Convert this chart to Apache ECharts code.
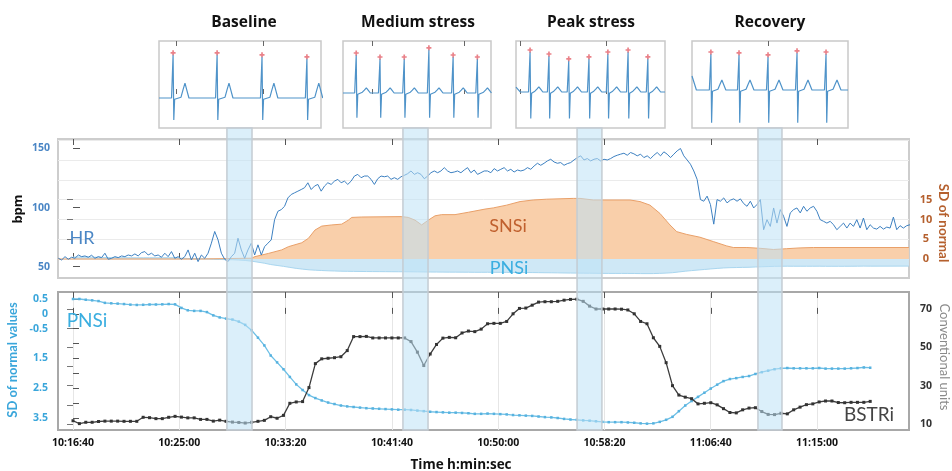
<!DOCTYPE html>
<html><head><meta charset="utf-8">
<script src="https://cdn.jsdelivr.net/npm/echarts@6/dist/echarts.min.js"></script>
<style>html,body{margin:0;padding:0;background:#fff}#c{width:952px;height:471px}</style>
</head><body><div id="c"></div>
<script>
// ---------------- DATA ----------------
// time in seconds after 10:16:40
const xTickSec = [0, 500, 1000, 1500, 2000, 2500, 3000, 3500];
const xTickLabels = ['10:16:40','10:25:00','10:33:20','10:41:40','10:50:00','10:58:20','11:06:40','11:15:00'];

// phase windows (shaded bands), seconds
const bandNames = ['Baseline','Medium stress','Peak stress','Recovery'];
const bandStartSec = [724, 1552, 2371, 3222];
const bandEndSec = [842, 1670, 2488, 3335];

// heart rate (bpm), sampled every hrStepSec from hrStartSec
const hrStartSec = -69;
const hrStepSec = 15.65;
const hrValues = [
57.1,55.7,58.5,56.3,58.0,57.1,59.9,58.5,59.1,58.0,
59.7,57.1,58.5,57.7,61.4,56.3,57.1,58.5,57.7,59.1,
58.5,59.9,59.1,60.8,59.1,61.9,62.8,59.9,61.4,59.1,
59.9,58.0,61.4,58.5,62.8,57.1,58.5,56.3,58.5,64.2,
55.7,61.4,54.3,59.9,57.1,61.4,69.9,79.8,72.7,61.4,
56.3,54.3,58.5,61.4,74.1,64.2,57.1,64.2,69.9,59.9,
68.5,59.9,67.0,69.9,72.7,89.8,96.9,98.3,101.1,108.2,
111.1,112.5,113.9,115.3,116.8,121.0,115.3,118.2,119.6,113.9,
118.2,121.0,119.6,122.4,123.9,121.0,122.4,119.6,122.4,126.7,
128.1,125.3,126.7,126.7,123.9,119.6,124.4,126.7,126.1,126.7,
123.9,125.3,123.9,126.1,127.3,128.7,131.0,128.1,129.5,128.1,
124.4,126.7,129.5,131.0,129.5,131.0,133.8,131.0,129.5,130.1,
131.0,129.5,131.8,133.8,129.5,131.8,128.1,129.5,131.0,
131.0,129.5,133.0,131.0,132.4,133.8,131.0,132.4,130.1,131.8,
131.0,131.8,133.8,132.4,135.2,137.5,135.8,137.5,139.5,140.9,
138.6,137.5,138.1,135.8,137.2,138.1,140.3,142.3,143.8,140.3,
141.5,139.5,140.9,141.5,139.5,140.9,140.3,141.5,143.2,144.3,
145.2,146.0,144.3,146.6,145.5,143.8,145.2,142.3,143.8,141.5,
144.3,146.6,143.8,147.2,145.2,142.3,145.2,148.0,150.0,143.8,
140.3,136.7,131.0,123.9,106.8,105.4,109.7,102.6,86.0,106.8,
105.4,108.2,104.0,106.3,107.4,105.4,107.4,103.4,101.1,105.4,
99.7,102.6,106.8,81.3,89.8,84.1,99.7,86.9,98.3,92.6,
84.1,95.5,98.3,99.7,95.5,101.1,96.9,99.7,101.1,96.9,
89.8,88.4,86.9,88.4,85.5,81.3,84.1,86.9,82.7,86.9,
84.1,89.8,82.7,91.2,81.3,85.5,82.7,81.8,84.1,81.8,
83.5,82.7,92.0,81.3,84.7,82.7,84.7,85.5
];

// SNSi (SD of normal values), breakpoints
const snsiTimes = [-70,605,840,856,919,982,1013,1076,1107,1138,1170,1217,1264,1295,1311,1358,1546,1577,1609,1640,1671,1703,1734,1797,1860,1938,1977,2040,2103,2165,2228,2291,2353,2385,2448,2620,2667,2714,2761,2808,2840,2887,2949,3012,3075,3106,3170,3232,3295,3357,3420,3483,3932];
const snsiValues = [0,0,0.2,0.6,1.4,2.3,3.1,4.1,5.2,7.3,8.3,8.6,8.8,9.8,10.5,10.6,10.7,10.5,9.8,8.6,9.8,10.9,11.2,11.2,11.8,12.6,12.9,13.6,14.5,14.9,15.1,15.2,15.3,15.3,14.9,14.9,14.5,13.6,11.5,8.6,6.9,6.2,5.5,4.4,3.3,2.9,2.9,2.7,2.4,2.6,2.8,2.9,2.9];

// PNSi and BSTRi, one value every sampleStepSec from 0 s
const sampleStepSec = 30;
const pnsiValues = [
0.50,0.50,0.475,0.455,0.43,0.37,0.355,0.345,0.33,0.31,
0.30,0.305,0.315,0.315,0.32,0.33,0.32,0.20,0.12,0.10,
0.10,0.06,-0.05,-0.12,-0.16,-0.19,-0.26,-0.37,-0.55,-0.80,
-1.06,-1.40,-1.63,-1.86,-2.12,-2.37,-2.56,-2.73,-2.83,-2.91,
-2.98,-3.03,-3.08,-3.11,-3.13,-3.15,-3.17,-3.18,-3.19,-3.20,
-3.21,-3.22,-3.22,-3.23,-3.25,-3.27,-3.29,-3.30,-3.31,-3.32,
-3.32,-3.33,-3.34,-3.36,-3.36,-3.35,-3.36,-3.37,-3.38,-3.40,
-3.41,-3.42,-3.43,-3.45,-3.47,-3.48,-3.50,-3.53,-3.55,-3.56,
-3.58,-3.59,-3.61,-3.63,-3.64,-3.64,-3.64,-3.65,-3.66,-3.68,
-3.69,-3.68,-3.63,-3.56,-3.46,-3.27,-3.08,-2.93,-2.79,-2.65,
-2.51,-2.38,-2.26,-2.19,-2.16,-2.12,-2.09,-2.02,-1.96,-1.91,
-1.86,-1.83,-1.82,-1.83,-1.83,-1.83,-1.83,-1.82,-1.84,-1.84,
-1.84,-1.84,-1.83,-1.82,-1.80,-1.81
];
const pnsiBandTailSec = [3932];
const pnsiBandTailValues = [-1.8];
const bstriValues = [
11.7,10.2,10.9,10.9,11.3,11.5,11.5,11.5,11.4,11.4,
11.4,13.5,13.3,12.8,12.8,13.5,14.0,13.6,13.2,13.2,
12.4,12.4,11.5,12.0,11.4,11.0,10.8,10.5,10.9,11.4,
11.9,13.8,13.0,14.5,20.8,21.5,21.7,29.0,41.5,44.0,
44.3,44.6,45.1,48.3,55.6,55.6,55.7,54.9,54.9,54.9,
54.9,54.9,54.9,53.0,47.5,40.5,46.5,51.5,54.8,55.2,
55.0,57.5,58.5,58.2,59.5,62.3,62.5,62.5,63.5,67.5,
70.3,70.5,72.0,73.6,73.8,73.8,74.0,74.6,75.0,75.1,
74.0,71.5,70.0,70.0,70.0,70.0,69.9,69.5,67.5,63.5,
62.3,55.0,50.5,42.0,30.0,25.1,24.0,23.2,20.5,20.8,
21.1,20.0,18.0,16.0,15.8,17.4,18.3,18.5,16.5,15.0,
14.9,15.6,15.3,17.4,18.8,20.1,20.5,21.5,22.0,22.0,
21.2,21.1,21.3,21.3,21.3,21.8
];

// axis tick labels
const bpmTicks = [50, 100, 150];
const sdUpperLabelTicks = [0, 5, 10, 15];
const sdUpperTickMarks = [5, 10, 15];
const pnsiAxisTicks = [0.5, 0, -0.5, -1, -1.5, -2, -2.5, -3, -3.5];
const pnsiAxisLabels = ['0.5', '0', '-0.5', '', '1.5', '', '2.5', '', '3.5'];
const cuTickMarks = [10, 20, 30, 40, 50, 60, 70];
const cuLabelTicks = [10, 30, 50, 70];

// ECG insets (seconds within each strip, amplitude in mV)
const insetSpanSec = [3.68, 3.36, 3.39, 3.55];
const insetTickSec = [[0.39, 2.36], [0.66, 2.75], [0.09, 2.05], [1.73]];
const rPeakSec = [
  [0.32, 1.32, 2.34, 3.36],
  [0.30, 0.84, 1.39, 1.95, 2.50, 3.05],
  [0.32, 0.75, 1.20, 1.66, 2.09, 2.55, 3.00],
  [0.43, 1.07, 1.73, 2.39, 3.05]
];
const rPeakAmp = [
  [1.08, 1.08, 1.03, 0.98],
  [0.95, 0.85, 0.85, 1.08, 0.90, 0.85],
  [1.00, 0.90, 0.78, 0.83, 0.95, 1.00, 0.83],
  [0.90, 0.88, 0.83, 0.93, 0.90]
];
const ecgBaseline = [-0.1, 0.025, 0.05, 0.1];
const sWaveAmp = [-0.55, -0.62, -0.66, -0.82];
const tWaveDelaySec = [0.27, 0.23, 0.20, 0.25];
const tWaveAmp = [0.37, 0.13, 0.13, 0.25];
const ecgStartLevel = [0, 0, 0.12, 0.35];

// ---------------- LAYOUT / BUILD ----------------
const X_MIN = -70.6, X_MAX = 3932.5;
const FONT = '"Open Sans", "DejaVu Sans", sans-serif';
const LFONT = 'Lato, "Open Sans", sans-serif';

const hrData = hrValues.map((v, i) => [hrStartSec + i * hrStepSec, v]);
const snsiData = snsiTimes.map((t, i) => [t, snsiValues[i]]);
const pnsiData = pnsiValues.map((v, i) => [i * sampleStepSec, v]);
const pnsiBandData = pnsiData.concat(pnsiBandTailSec.map((t, i) => [t, pnsiBandTailValues[i]]));
const bstriData = bstriValues.map((v, i) => [i * sampleStepSec, v]);

function ecgTrace(k) {
  const b = ecgBaseline[k];
  const pts = [[0, b + ecgStartLevel[k]]];
  if (ecgStartLevel[k] !== 0) pts.push([0.05, b + ecgStartLevel[k] * 0.5], [0.1, b]);
  rPeakSec[k].forEach((r, j) => {
    const a = rPeakAmp[k][j], td = tWaveDelaySec[k], ta = tWaveAmp[k];
    pts.push([r - 0.09, b], [r - 0.06, b + 0.05], [r - 0.035, b], [r - 0.012, b - 0.05],
      [r, b + a], [r + 0.016, b + sWaveAmp[k]], [r + 0.035, b - 0.03], [r + 0.06, b],
      [r + td - 0.09, b + 0.02], [r + td - 0.045, b + ta * 0.55], [r + td, b + ta],
      [r + td + 0.045, b + ta * 0.5], [r + td + 0.09, b]);
  });
  if (pts[pts.length - 1][0] < insetSpanSec[k]) pts.push([insetSpanSec[k], b]);
  return pts;
}
function ecgMarks(k) {
  return rPeakSec[k].map((r, j) => [r, ecgBaseline[k] + rPeakAmp[k][j] + 0.05]);
}

const insetBoxes = [
  {left: 159, top: 41, width: 162, height: 87},
  {left: 343, top: 41, width: 148, height: 87},
  {left: 516, top: 41, width: 149, height: 87},
  {left: 692, top: 41, width: 156, height: 87}
];
const titleCenters = [244, 418, 591, 770];

const grids = [
  {left: 58, top: 139, width: 851, height: 139, show: true, borderColor: '#cdcdcd', borderWidth: 2},
  {left: 58, top: 292, width: 851, height: 138, show: true, borderColor: '#a8a8a8', borderWidth: 2},
  {left: 58, top: 128, width: 851, height: 302},
  {left: 58, top: 140.2, width: 851, height: 118.8},
  {left: 73, top: 292, width: 744, height: 138}
];
insetBoxes.forEach(bx => grids.push(Object.assign({show: true, borderColor: '#c9c9c9', borderWidth: 1.5}, bx)));
grids.forEach(g => { g.outerBoundsMode = 'none'; g.containLabel = false; });

const tickStyle = {lineStyle: {color: '#555', width: 1}};
function xTicksOnly(gi, pos, len) {
  return {gridIndex: gi, type: 'value', min: X_MIN, max: X_MAX, position: pos,
    axisLine: {show: false}, splitLine: {show: false},
    axisTick: Object.assign({inside: true, length: len, customValues: xTickSec}, tickStyle),
    axisLabel: {show: false}};
}
const xAxes = [
  xTicksOnly(0, 'bottom', 6),
  xTicksOnly(0, 'top', 6),
  Object.assign(xTicksOnly(1, 'bottom', 6), {
    axisLabel: {show: true, customValues: xTickSec, margin: 8, color: '#111', fontWeight: 'bold',
      fontSize: 10.5, fontFamily: FONT,
      formatter: v => xTickLabels[xTickSec.indexOf(v)] || ''}
  }),
  xTicksOnly(1, 'top', 6),
  {gridIndex: 2, type: 'value', min: X_MIN, max: X_MAX, show: false},
  {gridIndex: 3, type: 'value', min: X_MIN, max: X_MAX, show: false},
  {gridIndex: 4, type: 'value', min: 0, max: 3500, interval: 500,
    axisLine: {show: false}, axisTick: {show: false}, axisLabel: {show: false},
    splitLine: {show: true, lineStyle: {color: '#e6e6e6', width: 1}}}
];
insetBoxes.forEach((bx, k) => {
  ['bottom', 'top'].forEach(pos => xAxes.push({
    gridIndex: 5 + k, type: 'value', min: 0, max: insetSpanSec[k], position: pos,
    axisLine: {show: false}, splitLine: {show: false}, axisLabel: {show: false},
    axisTick: {inside: true, length: 5, customValues: insetTickSec[k], lineStyle: {color: '#666', width: 1}}
  }));
});

const yAxes = [
  {gridIndex: 0, type: 'value', position: 'left', min: 40.44, max: 158.04,
    axisLine: {show: false}, splitLine: {show: false},
    axisTick: {inside: true, length: 7, customValues: bpmTicks, lineStyle: {color: '#555'}},
    axisLabel: {customValues: bpmTicks, margin: 8, color: '#4a86c5', fontWeight: 'bold', fontSize: 10.5, fontFamily: FONT}},
  {gridIndex: 0, type: 'value', position: 'right', min: -4.8, max: 30.3,
    axisLine: {show: false}, splitLine: {show: false},
    axisTick: {inside: true, length: 6, customValues: sdUpperTickMarks, lineStyle: {color: '#777'}},
    axisLabel: {customValues: sdUpperLabelTicks, margin: 17, align: 'center', color: '#b5602e', fontWeight: 'bold', fontSize: 11, fontFamily: FONT}},
  {gridIndex: 1, type: 'value', position: 'left', min: -3.903, max: 0.735,
    axisLine: {show: false}, splitLine: {show: false},
    axisTick: {inside: true, length: 6, customValues: pnsiAxisTicks, lineStyle: {color: '#555'}},
    axisLabel: {customValues: pnsiAxisTicks, margin: 10, color: '#3aa6db', fontWeight: 'bold', fontSize: 10.5, fontFamily: FONT,
      formatter: v => { const i = pnsiAxisTicks.findIndex(t => Math.abs(t - v) < 1e-6); return i >= 0 ? pnsiAxisLabels[i] : ''; }}},
  {gridIndex: 1, type: 'value', position: 'right', min: 6.87, max: 78.87,
    axisLine: {show: false}, splitLine: {show: false},
    axisTick: {inside: true, length: 6, customValues: cuTickMarks, lineStyle: {color: '#777'}},
    axisLabel: {customValues: cuLabelTicks, margin: 11, color: '#333', fontWeight: 'bold', fontSize: 10.5, fontFamily: FONT}},
  {gridIndex: 2, type: 'value', min: 0, max: 1, show: false},
  {gridIndex: 3, type: 'value', min: 0, max: 30, interval: 5,
    axisLine: {show: false}, axisTick: {show: false}, axisLabel: {show: false},
    splitLine: {show: true, lineStyle: {color: '#ebebeb', width: 1}}},
  {gridIndex: 4, type: 'value', min: 0, max: 1, show: false}
];
insetBoxes.forEach((bx, k) => yAxes.push({gridIndex: 5 + k, type: 'value', min: -0.85, max: 1.325, show: false}));

const series = [
  {type: 'line', name: 'PNSi band', xAxisIndex: 0, yAxisIndex: 1, data: pnsiBandData, showSymbol: false, z: 2,
    lineStyle: {color: '#a9d6ef', width: 1}, areaStyle: {color: '#cfe8f6', opacity: 1}},
  {type: 'line', name: 'SNSi', xAxisIndex: 0, yAxisIndex: 1, data: snsiData, showSymbol: false, z: 3,
    lineStyle: {color: '#e9a069', width: 1}, areaStyle: {color: '#f9cfaa', opacity: 1}},
  {type: 'line', name: 'HR', xAxisIndex: 0, yAxisIndex: 0, data: hrData, showSymbol: false, z: 4,
    lineStyle: {color: '#3d80c1', width: 1}},
  {type: 'line', name: 'PNSi', xAxisIndex: 2, yAxisIndex: 2, data: pnsiData, symbol: 'rect', symbolSize: 2.5, z: 4,
    lineStyle: {color: '#6cbfe6', width: 1.3}, itemStyle: {color: '#57b2df'}},
  {type: 'line', name: 'BSTRi', xAxisIndex: 2, yAxisIndex: 3, data: bstriData, symbol: 'rect', symbolSize: 3, z: 5,
    lineStyle: {color: '#3c3c3c', width: 1.3}, itemStyle: {color: '#333'}},
  {type: 'line', name: 'bands', xAxisIndex: 4, yAxisIndex: 4, data: [], z: 10,
    markArea: {silent: true, z: 10,
      itemStyle: {color: 'rgba(190,225,245,0.55)', borderColor: '#c4ccd3', borderWidth: 1.5},
      data: bandStartSec.map((s, i) => [{xAxis: s, name: bandNames[i]}, {xAxis: bandEndSec[i]}]),
      label: {show: false}}}
];
insetBoxes.forEach((bx, k) => {
  series.push({type: 'line', xAxisIndex: 7 + 2 * k, yAxisIndex: 7 + k, data: ecgTrace(k), showSymbol: false, z: 4,
    lineStyle: {color: '#4f93c9', width: 1.2}});
  series.push({type: 'scatter', xAxisIndex: 7 + 2 * k, yAxisIndex: 7 + k, data: ecgMarks(k), z: 5,
    symbol: 'path://M2,0H4V2H6V4H4V6H2V4H0V2H2Z', symbolSize: 5, itemStyle: {color: '#e5626a'}});
});

function txt(text, x, y, size, color, weight, family, rot) {
  return {type: 'text', x: x, y: y, rotation: rot || 0, z: 100,
    style: {text: text, x: 0, y: 0, fill: color, fontSize: size, fontWeight: weight || 'normal',
      fontFamily: family || FONT, align: 'center', verticalAlign: 'middle', textAlign: 'center', textVerticalAlign: 'middle'}};
}
const graphics = [];
bandNames.forEach((n, i) => graphics.push(txt(n, titleCenters[i], 23, 15.5, '#111', 'bold')));
graphics.push(
  txt('HR', 82, 238, 18, '#4a86c5', 'normal', LFONT),
  txt('SNSi', 508, 226, 18, '#c0602e', 'normal', LFONT),
  txt('PNSi', 509, 268, 18, '#3aaee0', 'normal', LFONT),
  txt('PNSi', 87, 321, 19, '#3aaee0', 'normal', LFONT),
  txt('BSTRi', 869, 415, 19, '#444', 'normal', LFONT),
  txt('bpm', 18, 209, 13, '#111', 'bold', FONT, Math.PI / 2),
  txt('SD of normal values', 13, 360, 13, '#3aa6db', 'bold', LFONT, Math.PI / 2),
  txt('SD of normal', 943, 223, 13.5, '#b5602e', 'bold', LFONT, -Math.PI / 2),
  txt('Conventional units', 944, 357, 13, '#8a8a8a', 'normal', LFONT, -Math.PI / 2),
  txt('Time h:min:sec', 461, 465, 13.5, '#111', 'bold', FONT)
);

const chart = echarts.init(document.getElementById('c'), null, {renderer: 'canvas'});
chart.setOption({
  animation: false,
  backgroundColor: '#ffffff',
  grid: grids,
  xAxis: xAxes,
  yAxis: yAxes,
  series: series,
  graphic: graphics
});
</script></body></html>
